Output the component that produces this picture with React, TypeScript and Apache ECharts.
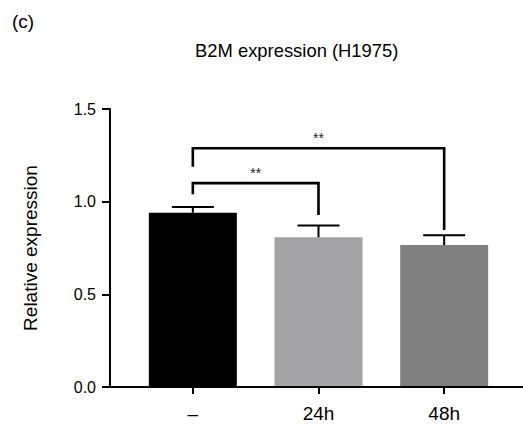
import React, { useEffect, useRef } from "react";
import * as echarts from "echarts";

const categories = ["–", "24h", "48h"];
const means = [0.94, 0.808, 0.766];
const upperErrors = [0.971, 0.872, 0.819];
const barColors = ["#000000", "#a3a3a6", "#808080"];
const yTicks = { min: 0, max: 1.5, interval: 0.5 };
// [fromIndex, toIndex, bracketHeight, leftLegBottom, rightLegBottom, label]
const brackets: [number, number, number, number, number, string][] = [
  [0, 1, 1.1, 1.04, 0.928, "**"],
  [0, 2, 1.288, 1.189, 0.847, "**"],
];

const FONT = "'Liberation Sans', Arial, Helvetica, sans-serif";

export default function App() {
  const ref = useRef<HTMLDivElement>(null);
  useEffect(() => {
    if (!ref.current) return;
    const chart = echarts.init(ref.current, undefined, { renderer: "svg" });
    const option: any = {
      animation: false,
      backgroundColor: "#ffffff",
      textStyle: { fontFamily: FONT },
      title: [
        {
          text: "B2M expression (H1975)",
          left: 195,
          top: 41,
          padding: 0,
          textStyle: { fontSize: 18.4, fontWeight: "normal", color: "#000", fontFamily: FONT },
        },
        {
          text: "(c)",
          left: 12,
          top: 12,
          padding: 0,
          textStyle: { fontSize: 19, fontWeight: "normal", color: "#000", fontFamily: FONT },
        },
      ],
      grid: { left: 130, right: 16, top: 109, bottom: 39 },
      xAxis: {
        type: "category",
        data: categories,
        axisLine: { show: false },
        axisTick: {
          show: true,
          alignWithLabel: true,
          length: 7,
          lineStyle: { color: "#000", width: 2 },
        },
        axisLabel: { color: "#000", fontSize: 19, margin: 17, fontFamily: FONT },
        splitLine: { show: false },
      },
      yAxis: {
        type: "value",
        min: yTicks.min,
        max: yTicks.max,
        interval: yTicks.interval,
        offset: 20,
        name: "Relative expression",
        nameLocation: "middle",
        nameGap: 70,
        nameTextStyle: { fontSize: 19, color: "#000", fontFamily: FONT },
        axisLine: { show: true, lineStyle: { color: "#000", width: 2 } },
        axisTick: { show: true, length: 8, lineStyle: { color: "#000", width: 2 } },
        axisLabel: {
          color: "#000",
          fontSize: 16,
          margin: 14,
          fontFamily: FONT,
          formatter: (v: number) => v.toFixed(1),
        },
        splitLine: { show: false },
      },
      series: [
        {
          type: "bar",
          barWidth: 88,
          data: means.map((v, i) => ({ value: v, itemStyle: { color: barColors[i] } })),
          z: 2,
        },
        {
          type: "custom",
          z: 3,
          data: means.map((m, i) => [i, m, upperErrors[i]]),
          encode: { x: 0, y: 2 },
          renderItem: (params: any, api: any) => {
            const i = api.value(0);
            const base = api.coord([i, api.value(1)]);
            const top = api.coord([i, api.value(2)]);
            const half = 21;
            return {
              type: "group",
              children: [
                {
                  type: "line",
                  shape: { x1: top[0], y1: base[1], x2: top[0], y2: top[1] },
                  style: { stroke: "#000", lineWidth: 2 },
                },
                {
                  type: "line",
                  shape: { x1: top[0] - half, y1: top[1], x2: top[0] + half, y2: top[1] },
                  style: { stroke: "#000", lineWidth: 2 },
                },
              ],
            };
          },
        },
        {
          type: "custom",
          z: 4,
          data: brackets.map((b) => [b[0], b[1], b[2], b[3], b[4], b[5]]),
          encode: { x: 0, y: 2 },
          renderItem: (params: any, api: any) => {
            const b = brackets[params.dataIndex];
            const pL = api.coord([b[0], b[3]]);
            const pTL = api.coord([b[0], b[2]]);
            const pTR = api.coord([b[1], b[2]]);
            const pR = api.coord([b[1], b[4]]);
            const mid = (pTL[0] + pTR[0]) / 2;
            return {
              type: "group",
              children: [
                {
                  type: "polyline",
                  shape: { points: [pL, pTL, pTR, pR] },
                  style: { stroke: "#000", lineWidth: 2.6, fill: null },
                },
                {
                  type: "text",
                  style: {
                    text: b[5],
                    x: mid,
                    y: pTL[1] - 3,
                    align: "center",
                    verticalAlign: "bottom",
                    fontSize: 14,
                    fontFamily: FONT,
                    fill: "#222",
                  },
                },
              ],
            };
          },
        },
      ],
    };
    chart.setOption(option);
    const y0 = chart.convertToPixel({ yAxisIndex: 0 }, 0) as number;
    chart.setOption({
      graphic: [
        {
          type: "line",
          z: 10,
          shape: { x1: 102, y1: y0, x2: 523, y2: y0 },
          style: { stroke: "#000", lineWidth: 2 },
        },
      ],
    });
    return () => chart.dispose();
  }, []);
  return (
    <div
      ref={ref}
      style={{ position: "fixed", left: 0, top: 0, width: 523, height: 426, background: "#fff" }}
    />
  );
}
